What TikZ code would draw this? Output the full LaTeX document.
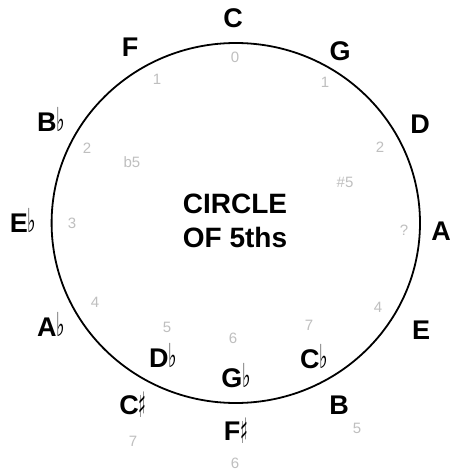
\documentclass[tikz,border=0pt]{standalone}
\usepackage{fontspec}
\setmainfont{Liberation Sans}
\newfontfamily\symfont{DejaVu Sans}
\newcommand{\fl}{{\symfont\fontsize{20}{20}\selectfont\scalebox{0.9}[1.65]{♭}}}
\newcommand{\sh}{{\symfont\fontsize{20}{20}\selectfont\raisebox{-3pt}{\scalebox{0.8}[1.75]{♯}}}}
\begin{document}
\begin{tikzpicture}[x=1pt,y=-1pt,
  keylabel/.style={font=\fontsize{27}{30}\selectfont\bfseries, inner sep=0pt, anchor=center},
  pencil/.style={font=\fontsize{15}{15}\selectfont, text=black!25, inner sep=0pt},
  title/.style={font=\fontsize{28}{34}\selectfont\bfseries, align=center, inner sep=0pt}]
\useasboundingbox (0,0) rectangle (453,473);
\fill[white] (0,0) rectangle (453,473);
\draw[line width=1.8pt] (235.8,223) ellipse [x radius=184.2, y radius=180];
\node[title] (t) at (235,221) {CIRCLE\\OF 5ths};
% key labels
\node[keylabel] (C)  at (233,18) {C};
\node[keylabel] (G)  at (340,51) {G};
\node[keylabel] (D)  at (420,124) {D};
\node[keylabel] (A)  at (441,231) {A};
\node[keylabel] (E)  at (421,330) {E};
\node[keylabel] (B)  at (339,405) {B};
\node[keylabel] (Fs) at (236,431) {F\sh};
\node[keylabel] (Cs) at (133,405) {C\sh};
\node[keylabel] (Ab) at (51,324) {A\fl};
\node[keylabel] (Eb) at (23,220) {E\fl};
\node[keylabel] (Bb) at (51,119) {B\fl};
\node[keylabel] (F)  at (130,47) {F};
\node[keylabel] (Db) at (163,355) {D\fl};
\node[keylabel] (Gb) at (236,376) {G\fl};
\node[keylabel] (Cb) at (314,357) {C\fl};
% pencil marks
\node[pencil] (p0)  at (235,57) {0};
\node[pencil] (p1a) at (157,79) {1};
\node[pencil] (p1b) at (325,82) {1};
\node[pencil] (p2a) at (87,148) {2};
\node[pencil] (p2b) at (380,147) {2};
\node[pencil] (pb5) at (132,162) {b5};
\node[pencil] (ps5) at (345,182) {\#5};
\node[pencil] (p3a) at (72,223) {3};
\node[pencil] (p3b) at (404,230) {?};
\node[pencil] (p4a) at (95,302) {4};
\node[pencil] (p4b) at (378,307) {4};
\node[pencil] (p5a) at (167,327) {5};
\node[pencil] (p6a) at (233,338) {6};
\node[pencil] (p7a) at (309,325) {7};
\node[pencil] (p7b) at (133,441) {7};
\node[pencil] (p6b) at (235,463) {6};
\node[pencil] (p5b) at (357,428) {5};
\end{tikzpicture}
\end{document}
